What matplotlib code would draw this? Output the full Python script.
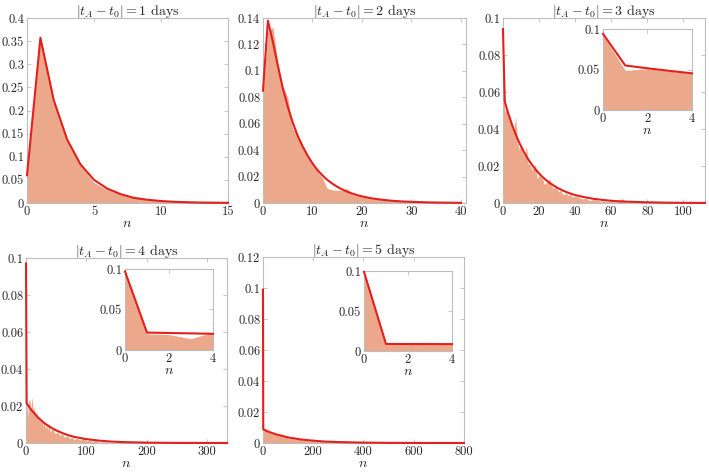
import matplotlib
matplotlib.use('Agg')
import matplotlib.pyplot as plt
from matplotlib.ticker import FuncFormatter
import numpy as np

plt.rcParams['font.family'] = ['cmr10']
plt.rcParams['mathtext.fontset'] = 'cm'
plt.rcParams['axes.unicode_minus'] = False
plt.rcParams['axes.formatter.use_mathtext'] = True

# ---- data ----
days = [1, 2, 3, 4, 5]

# panel 1
line1_n = [0, 1, 2, 3, 4, 5, 6, 7, 8, 9, 10, 11, 12, 13, 14, 15]
line1_p = [0.06, 0.357, 0.222, 0.137, 0.083, 0.05, 0.031, 0.019, 0.011, 0.007,
           0.0043, 0.0026, 0.0016, 0.001, 0.0006, 0.0004]
fill1_n = [0, 1, 2, 3, 4, 5, 6, 7, 8, 9, 10, 11, 12, 13, 14, 15]
fill1_h = [0.06, 0.355, 0.22, 0.135, 0.08, 0.044, 0.029, 0.018, 0.011, 0.0065,
           0.004, 0.0024, 0.0014, 0.0009, 0.0005, 0.0003]

# panel 2
line2_n = [0, 1, 2, 3, 4, 5, 6, 7, 8, 9, 10, 11, 12, 13, 14, 15, 16, 17, 18, 19,
           20, 22, 24, 26, 28, 30, 33, 36, 40]
line2_p = [0.085, 0.138, 0.122, 0.104, 0.087, 0.073, 0.061, 0.051, 0.043, 0.036,
           0.03, 0.025, 0.021, 0.0175, 0.0147, 0.0123, 0.0103, 0.0086, 0.0072,
           0.006, 0.005, 0.0035, 0.0025, 0.0017, 0.0012, 0.0009, 0.0005, 0.0003,
           0.00015]
fill2_n = list(range(0, 41))
fill2_h = [0.085, 0.13, 0.133, 0.106, 0.088, 0.08, 0.056, 0.052, 0.043, 0.035,
           0.029, 0.024, 0.019, 0.011, 0.01, 0.0095, 0.0095, 0.011, 0.0065, 0.0055,
           0.0045, 0.004, 0.0032, 0.0028, 0.0022, 0.002, 0.0015, 0.0013, 0.002,
           0.0009, 0.0008, 0.0007, 0.0006, 0.0005, 0.0004, 0.0004, 0.0003, 0.0006,
           0.0002, 0.0002, 0.0001]

# panel 3
line3_n = [0, 1, 2, 3, 4, 5, 6, 7, 8, 9, 10, 12, 14, 16, 18, 20, 22, 24, 26, 28,
           30, 33, 36, 40, 45, 50, 55, 60, 65, 70, 80, 90, 100, 112]
line3_p = [0.094, 0.055, 0.0515, 0.0483, 0.0453, 0.0424, 0.0398, 0.0373, 0.0349,
           0.0327, 0.0307, 0.0269, 0.0236, 0.0208, 0.0182, 0.016, 0.014, 0.0123,
           0.0108, 0.0095, 0.0083, 0.0068, 0.0056, 0.0043, 0.0032, 0.0023, 0.0017,
           0.0012, 0.0009, 0.0007, 0.0004, 0.0002, 0.0001, 0.00005]
fill3_n = [0, 1, 2, 3, 4, 5, 6, 7, 8, 9, 10, 11, 12, 13, 14, 15, 16, 17, 18, 19,
           20, 21, 22, 23, 24, 25, 26, 27, 28, 29, 30, 31, 32, 33, 34, 35, 36, 37,
           38, 39, 40, 42, 44, 46, 48, 50, 52, 54, 56, 58, 60, 62, 64, 66, 68, 70,
           75, 80, 90, 100, 112]
fill3_h = [0.092, 0.049, 0.051, 0.048, 0.045, 0.041, 0.038, 0.047, 0.033, 0.029,
           0.031, 0.027, 0.025, 0.031, 0.021, 0.021, 0.018, 0.019, 0.021, 0.013,
           0.015, 0.014, 0.013, 0.01, 0.011, 0.012, 0.013, 0.009, 0.008, 0.0085,
           0.0075, 0.006, 0.0068, 0.005, 0.0045, 0.0055, 0.004, 0.0048, 0.0038,
           0.0032, 0.0038, 0.003, 0.0022, 0.0026, 0.0012, 0.002, 0.0015, 0.001,
           0.0012, 0.0008, 0.001, 0.0006, 0.0008, 0.0025, 0.0005, 0.0006, 0.0004,
           0.0003, 0.0002, 0.0001, 0.00005]

# panel 4
line4_n = [0, 1, 2, 3, 4, 10, 20, 30, 40, 50, 60, 70, 80, 100, 120, 140, 160,
           200, 250, 333]
line4_p = [0.097, 0.0215, 0.021, 0.0205, 0.02, 0.0174, 0.0137, 0.0108, 0.0086,
           0.0068, 0.0054, 0.0042, 0.0033, 0.0021, 0.0013, 0.0008, 0.0005, 0.0002,
           0.00006, 0.00001]
fill4_n = [0, 1, 2, 3, 4, 6, 8, 10, 12, 14, 16, 18, 20, 22, 24, 26, 28, 30, 32,
           34, 36, 38, 40, 44, 48, 52, 56, 60, 64, 68, 72, 76, 80, 85, 90, 95, 100,
           105, 110, 115, 120, 130, 140, 160, 200, 250, 333]
fill4_h = [0.097, 0.02, 0.019, 0.014, 0.022, 0.024, 0.018, 0.025, 0.016, 0.02,
           0.014, 0.017, 0.012, 0.015, 0.011, 0.013, 0.009, 0.012, 0.008, 0.01,
           0.007, 0.011, 0.006, 0.008, 0.005, 0.006, 0.004, 0.005, 0.003, 0.004,
           0.0025, 0.003, 0.002, 0.0025, 0.0015, 0.003, 0.001, 0.0018, 0.0008,
           0.0015, 0.0005, 0.0006, 0.0003, 0.0002, 0.0001, 0.00003, 0.0]

# panel 5
line5_n = [0, 1, 2, 3, 4, 20, 50, 100, 150, 200, 250, 300, 400, 500, 600, 800]
line5_p = [0.099, 0.0088, 0.0087, 0.00865, 0.0086, 0.0074, 0.0057, 0.0036,
           0.0023, 0.0015, 0.0009, 0.0006, 0.00025, 0.0001, 0.00004, 0.00001]
fill5_n = [0, 1, 2, 3, 4, 10, 20, 30, 40, 50, 60, 70, 80, 90, 100, 120, 140,
           160, 180, 200, 250, 300, 400, 500, 800]
fill5_h = [0.099, 0.0082, 0.0083, 0.0081, 0.0082, 0.0085, 0.007, 0.0072, 0.0058,
           0.006, 0.0048, 0.005, 0.004, 0.0042, 0.0033, 0.0028, 0.0024, 0.0019,
           0.0017, 0.0013, 0.0008, 0.0005, 0.0002, 0.0001, 0.0]

lines = [(line1_n, line1_p), (line2_n, line2_p), (line3_n, line3_p),
         (line4_n, line4_p), (line5_n, line5_p)]
fills = [(fill1_n, fill1_h), (fill2_n, fill2_h), (fill3_n, fill3_h),
         (fill4_n, fill4_h), (fill5_n, fill5_h)]

xlims = [15, 41, 112, 333, 800]
xtick_sets = [[0, 5, 10, 15], [0, 10, 20, 30, 40], [0, 20, 40, 60, 80, 100],
              [0, 100, 200, 300], [0, 200, 400, 600, 800]]
ylims = [0.4, 0.14, 0.1, 0.1, 0.12]
ystep = [0.05, 0.02, 0.02, 0.02, 0.02]

# axes placement (figure fractions)
positions = [[0.0381, 0.5717, 0.2835, 0.3903],
             [0.3709, 0.5717, 0.2863, 0.3903],
             [0.7094, 0.5717, 0.2849, 0.3903],
             [0.0367, 0.0654, 0.2835, 0.3903],
             [0.3709, 0.0654, 0.2835, 0.3924]]
inset_pos = {2: [0.8505, 0.7679, 0.1255, 0.1709],
             3: [0.1763, 0.2616, 0.1241, 0.1709],
             4: [0.5134, 0.2595, 0.1241, 0.1688]}

FILL = '#EBA88A'
RED = '#E3201C'
EDGE = '#BDBDBD'
TXT = '#262626'

fmt = FuncFormatter(lambda v, p: '%g' % round(v, 6))


def style(ax, fs=9):
    for s in ax.spines.values():
        s.set_color(EDGE)
        s.set_linewidth(0.8)
    ax.tick_params(direction='in', length=3, width=0.6, color=EDGE,
                   labelcolor=TXT, labelsize=fs, top=True, right=True, pad=2)
    ax.yaxis.set_major_formatter(fmt)
    ax.xaxis.set_major_formatter(fmt)


fig = plt.figure(figsize=(7.09, 4.74), dpi=100)

for i in range(5):
    ax = fig.add_axes(positions[i])
    fn, fh = fills[i]
    ln, lp = lines[i]
    ax.fill_between(fn, 0, fh, color=FILL, linewidth=0)
    ax.plot(ln, lp, color=RED, lw=1.5, clip_on=False, zorder=3)
    ax.set_xlim(0, xlims[i])
    ax.set_ylim(0, ylims[i])
    ax.set_xticks(xtick_sets[i])
    ax.set_yticks(np.arange(0, ylims[i] + 1e-9, ystep[i]))
    style(ax)
    ax.set_title(r'$|t_A - t_0| = %d$ days' % days[i], fontsize=10, pad=2,
                 color=TXT)
    ax.set_xlabel('$n$', fontsize=10, labelpad=0, color=TXT)

    if i in inset_pos:
        axi = fig.add_axes(inset_pos[i])
        fn4 = [n for n in fn if n <= 4]
        fh4 = fh[:len(fn4)]
        ln4 = [n for n in ln if n <= 4]
        lp4 = lp[:len(ln4)]
        axi.fill_between(fn4, 0, fh4, color=FILL, linewidth=0)
        axi.plot(ln4, lp4, color=RED, lw=1.5, clip_on=False, zorder=3)
        axi.set_xlim(0, 4)
        axi.set_ylim(0, 0.1)
        axi.set_xticks([0, 2, 4])
        axi.set_yticks([0, 0.05, 0.1])
        style(axi)
        axi.set_xlabel('$n$', fontsize=10, labelpad=0, color=TXT)

fig.savefig('out.png', dpi=100)
